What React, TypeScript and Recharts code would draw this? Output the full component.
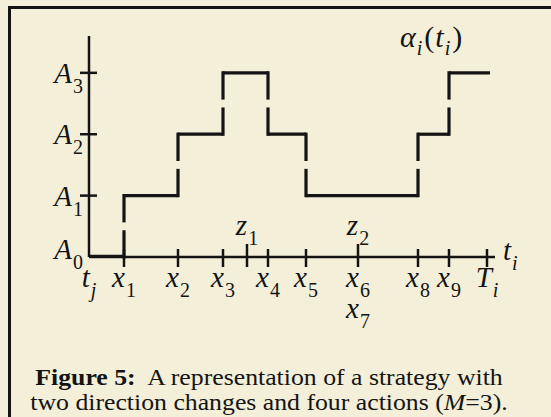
import { LineChart, Line, XAxis, YAxis, ReferenceLine } from "recharts";

// action levels on the vertical axis
const levelValues = [0, 1, 2, 3];
const levelLabels = ["A0", "A1", "A2", "A3"];

// strategy: times where the action changes, and the level held from each one
const changeTimes = [0, 35, 89, 134, 179, 217, 329, 360];
const actionLevels = [0, 1, 2, 3, 2, 1, 2, 3];
const horizonEnd = 401;
const axisEnd = 406;

// time-axis ticks and their labels (base letter + subscript)
const tickTimes = [0, 35, 89, 134, 158, 179, 217, 269, 329, 360, 398];
const tickBelow = ["t|j", "x|1", "x|2", "x|3", "", "x|4", "x|5", "x|6", "x|8", "x|9", "T|i"];
const tickAbove = ["", "", "", "", "z|1", "", "", "z|2", "", "", ""];
const tickSecondRow = ["", "", "", "", "", "", "", "x|7", "", "", ""];

const INK = "#141414";
const PAPER = "#f3efd8";
const SERIF = "'Liberation Serif', 'DejaVu Serif', serif";
const LABEL_SIZE = 29;

const segments = actionLevels.map((level, i) => [
  { t: changeTimes[i], v: level },
  { t: i + 1 < changeTimes.length ? changeTimes[i + 1] : horizonEnd, v: level },
]);

// each jump is drawn as two vertical strokes with a small break in the middle
const GAP = 0.09;
const jumps = changeTimes.slice(1).map((t, k) => {
  const lo = Math.min(actionLevels[k], actionLevels[k + 1]);
  const hi = Math.max(actionLevels[k], actionLevels[k + 1]);
  const mid = (lo + hi) / 2;
  return { t, lo, hi, mid };
});

function SubLabel({ x, y, label, anchor = "middle", size = LABEL_SIZE }: any) {
  if (!label) return null;
  const [base, sub] = label.split("|");
  const subItalic = /[a-z]/.test(sub);
  return (
    <text x={x} y={y} textAnchor={anchor} fontFamily={SERIF} fontSize={size} fill={INK}>
      <tspan fontStyle="italic">{base}</tspan>
      <tspan dx={1} dy={10} fontSize={20} fontStyle={subItalic ? "italic" : "normal"}>
        {sub}
      </tspan>
    </text>
  );
}

function TimeTick({ x, y, payload }: any) {
  const i = tickTimes.indexOf(payload.value);
  if (i < 0) return null;
  const up = tickAbove[i] ? 13 : 8;
  return (
    <g>
      {i > 0 && <line x1={x} x2={x} y1={y - up} y2={y + 10} stroke={INK} strokeWidth={2.5} />}
      <SubLabel x={x} y={y + 30} label={tickBelow[i]} />
      <SubLabel x={x} y={y - 22} label={tickAbove[i]} />
      <SubLabel x={x} y={y + 61} label={tickSecondRow[i]} />
    </g>
  );
}

function LevelTick({ x, y, payload }: any) {
  const i = levelValues.indexOf(payload.value);
  if (i < 0) return null;
  const raise = payload.value === 0 ? 8 : 0;
  return (
    <g>
      {payload.value > 0 && <line x1={x - 9} x2={x + 8} y1={y} y2={y} stroke={INK} strokeWidth={2.5} />}
      <SubLabel x={x - 6} y={y + 10 - raise} label={levelLabels[i].replace(/(\d)/, "|$1")} anchor="end" />
    </g>
  );
}

export default function App() {
  return (
    <div
      style={{
        position: "absolute",
        left: 0,
        top: 0,
        width: 551,
        height: 417,
        background: PAPER,
        overflow: "hidden",
        fontFamily: SERIF,
        color: INK,
      }}
    >
      <div
        style={{
          position: "absolute",
          left: 8,
          top: 6,
          width: 560,
          height: 430,
          borderTop: `3px solid ${INK}`,
          borderLeft: `3px solid ${INK}`,
        }}
      />
      <div style={{ position: "absolute", left: 0, top: 0 }}>
        <LineChart
          width={551}
          height={340}
          margin={{ top: 36, left: 88, right: 56, bottom: 82 }}
          style={{ overflow: "visible" }}
        >
          <XAxis
            dataKey="t"
            type="number"
            domain={[0, axisEnd]}
            ticks={tickTimes}
            interval={0}
            height={1}
            tickSize={0}
            tickMargin={0}
            tickLine={false}
            axisLine={{ stroke: INK, strokeWidth: 2.5 }}
            tick={<TimeTick />}
            allowDataOverflow
          />
          <YAxis
            type="number"
            domain={[0, 3.6]}
            ticks={levelValues}
            width={1}
            tickSize={0}
            tickMargin={0}
            tickLine={false}
            axisLine={{ stroke: INK, strokeWidth: 2.5 }}
            tick={<LevelTick />}
            allowDataOverflow
          />
          {segments.map((data, i) => (
            <Line
              key={`h${i}`}
              data={data}
              dataKey="v"
              stroke={INK}
              strokeWidth={i === 0 ? 4.5 : 3.2}
              dot={false}
              activeDot={false}
              isAnimationActive={false}
            />
          ))}
          {jumps.map((j, k) => [
            <ReferenceLine
              key={`l${k}`}
              segment={[
                { x: j.t, y: j.lo },
                { x: j.t, y: j.mid - GAP },
              ]}
              stroke={INK}
              strokeWidth={3.2}
              strokeLinecap="square"
              ifOverflow="visible"
            />,
            <ReferenceLine
              key={`u${k}`}
              segment={[
                { x: j.t, y: j.mid + GAP },
                { x: j.t, y: j.hi },
              ]}
              stroke={INK}
              strokeWidth={3.2}
              strokeLinecap="square"
              ifOverflow="visible"
            />,
          ])}
        </LineChart>
      </div>
      <svg width={551} height={417} style={{ position: "absolute", left: 0, top: 0, pointerEvents: "none" }}>
        <text x={400} y={47} fontFamily={SERIF} fontSize={30} fill={INK} fontStyle="italic">
          <tspan>α</tspan>
          <tspan dx={1} dy={8} fontSize={20}>i</tspan>
          <tspan dx={2} dy={-8} fontStyle="normal">(</tspan>
          <tspan dx={1}>t</tspan>
          <tspan dx={1} dy={8} fontSize={20}>i</tspan>
          <tspan dx={2} dy={-8} fontStyle="normal">)</tspan>
        </text>
        <SubLabel x={503} y={260} label="t|i" anchor="start" />
      </svg>
      <div
        style={{
          position: "absolute",
          left: 10,
          top: 365,
          width: 518,
          textAlign: "center",
          fontSize: 23,
          lineHeight: "25px",
          transform: "scaleX(1.12)",
          transformOrigin: "259px 0",
          whiteSpace: "nowrap",
        }}
      >
        <b>Figure 5:</b>
        {"\u00a0 A representation of a strategy with"}
        <br />
        {"two direction changes and four actions ("}
        <i>M</i>
        {"=3)."}
      </div>
    </div>
  );
}
